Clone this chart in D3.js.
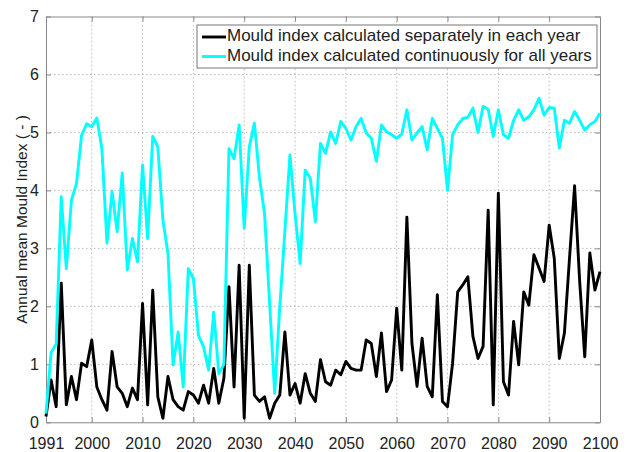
<!DOCTYPE html>
<html><head><meta charset="utf-8">
<script src="https://cdn.jsdelivr.net/npm/d3@7"></script>
<style>body{margin:0;background:#fff}svg{display:block}</style>
</head><body>
<script>
const startYear = 1991, endYear = 2100;
const xTicks = [1991,2000,2010,2020,2030,2040,2050,2060,2070,2080,2090,2100];
const yTicks = [0,1,2,3,4,5,6,7];
const seriesNames = ["Mould index calculated separately in each year","Mould index calculated continuously for all years"];
// values for each year 1991..2100
const separate = [
0.1,0.73,0.27,2.4,0.3,0.79,0.39,1.02,0.96,1.42,
0.61,0.39,0.21,1.22,0.61,0.5,0.27,0.59,0.39,2.05,
0.3,2.28,0.44,0.07,0.79,0.39,0.27,0.21,0.53,0.47,
0.33,0.64,0.33,0.93,0.33,0.76,2.34,0.61,2.71,0.07,
2.71,0.47,0.36,0.44,0.07,0.33,0.47,1.56,0.47,0.67,
0.33,0.84,0.5,0.36,1.08,0.7,0.64,0.9,0.82,1.05,
0.93,0.9,0.9,1.42,1.36,0.79,1.54,0.53,0.73,1.97,
0.9,3.54,1.36,0.62,1.45,0.62,0.44,2.2,0.36,0.27,
1.02,2.25,2.37,2.51,1.48,1.1,1.31,3.66,0.3,3.95,
0.7,0.47,1.74,0.99,2.25,2.02,2.89,2.66,2.43,3.4,
2.83,1.1,1.54,2.83,4.08,2.43,1.13,2.92,2.28,2.6];
const continuous = [
0.15,1.2,1.35,3.89,2.65,3.83,4.12,4.95,5.15,5.1,
5.25,4.72,3.09,3.98,3.29,4.3,2.63,3.17,2.77,4.44,
3.17,4.93,4.75,3.49,2.91,0.99,1.56,0.61,2.65,2.48,
1.5,1.3,0.9,1.9,0.84,1.0,4.72,4.55,5.13,3.35,
4.75,5.16,4.22,3.6,2.05,0.5,2.0,3.3,4.61,3.6,
2.74,4.35,4.21,3.46,4.81,4.64,5.01,4.81,5.19,5.07,
4.87,5.1,5.24,4.99,4.9,4.5,5.13,5.01,4.96,4.9,
4.97,5.39,4.87,4.99,5.1,4.7,5.24,5.07,4.9,4.0,
4.96,5.13,5.24,5.26,5.42,5.0,5.45,5.4,4.93,5.39,
4.96,4.9,5.21,5.39,5.21,5.27,5.39,5.59,5.3,5.43,
5.42,4.73,5.21,5.16,5.36,5.21,5.04,5.13,5.19,5.33];
const years = d3.range(startYear, endYear + 1);

const W = 633, H = 452;
const m = {left:46, right:33, top:16.5, bottom:29.7};
const svg = d3.select("body").append("svg").attr("width",W).attr("height",H);
const x = d3.scaleLinear().domain([startYear,endYear]).range([m.left, W-m.right]);
const y = d3.scaleLinear().domain([0,7]).range([H-m.bottom, m.top]);
const font = "'Liberation Sans', Arial, sans-serif";

// grid
const g = svg.append("g");
g.selectAll("line.gx").data(xTicks.slice(1,-1)).join("line")
 .attr("x1",d=>x(d)).attr("x2",d=>x(d)).attr("y1",y(0)).attr("y2",y(7))
 .attr("stroke","#a8a8a8").attr("stroke-width",0.8).attr("stroke-dasharray","1.5,2.5");
g.selectAll("line.gy").data(yTicks.slice(1,-1)).join("line")
 .attr("y1",d=>y(d)).attr("y2",d=>y(d)).attr("x1",x(startYear)).attr("x2",x(endYear))
 .attr("stroke","#a8a8a8").attr("stroke-width",0.8).attr("stroke-dasharray","1.5,2.5");

// axes
const xAxis = d3.axisBottom(x).tickValues(xTicks).tickFormat(d3.format("d")).tickSizeInner(-5).tickSizeOuter(0).tickPadding(15);
const yAxis = d3.axisLeft(y).tickValues(yTicks).tickFormat(d3.format("d")).tickSizeInner(-5).tickSizeOuter(0).tickPadding(7);
const xa = svg.append("g").attr("transform",`translate(0,${y(0)})`).call(xAxis);
const ya = svg.append("g").attr("transform",`translate(${x(startYear)},0)`).call(yAxis);
const xt = svg.append("g").attr("transform",`translate(0,${y(7)})`).call(d3.axisTop(x).tickValues(xTicks).tickFormat("").tickSizeInner(-5).tickSizeOuter(0));
const yr = svg.append("g").attr("transform",`translate(${x(endYear)},0)`).call(d3.axisRight(y).tickValues(yTicks).tickFormat("").tickSizeInner(-5).tickSizeOuter(0));
[xa,ya,xt,yr].forEach(a=>{a.select(".domain").attr("stroke","#888");a.selectAll(".tick line").attr("stroke","#888");
 a.selectAll("text").attr("font-family",font).attr("font-size",16).attr("fill","#222");});

// lines
const line = d3.line().x((d,i)=>x(years[i])).y(d=>y(d));
svg.append("path").datum(separate).attr("d",line).attr("fill","none").attr("stroke","#000").attr("stroke-width",2.9).attr("stroke-linejoin","round");
svg.append("path").datum(continuous).attr("d",line).attr("fill","none").attr("stroke","#00ffff").attr("stroke-width",2.9).attr("stroke-linejoin","round");

// y label
svg.append("text").attr("transform",`translate(23,${(y(0)+y(7))/2}) rotate(-90)`)
 .attr("text-anchor","middle").attr("dominant-baseline","middle").attr("font-family",font).attr("font-size",15.5).attr("fill","#222")
 .text("Annual mean Mould Index ( - )");

// legend
const lg = svg.append("g");
lg.append("rect").attr("x",197).attr("y",25).attr("width",400).attr("height",43)
 .attr("fill","#fff").attr("stroke","#777").attr("stroke-width",1);
const colors = ["#000","#00ffff"];
seriesNames.forEach((n,i)=>{
  const yy = 37 + i*19.5;
  lg.append("line").attr("x1",202).attr("x2",226).attr("y1",yy).attr("y2",yy).attr("stroke",colors[i]).attr("stroke-width",2.9);
  lg.append("text").attr("x",227).attr("y",yy).attr("dominant-baseline","middle").attr("font-family",font).attr("font-size",17).attr("fill","#222").text(n);
});
</script>
</body></html>
